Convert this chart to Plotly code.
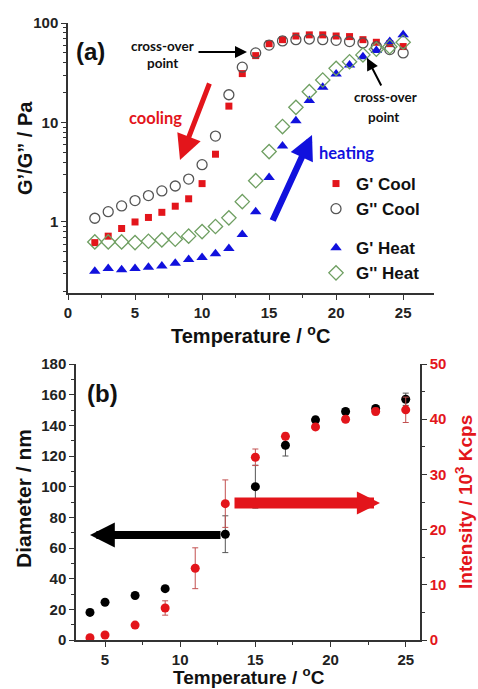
import plotly.graph_objects as go

# ---------------- data: panel (a) rheology ----------------
temp_a = list(range(2, 26))
g1_cool = [0.62, 0.72, 0.86, 1.0, 1.11, 1.25, 1.44, 1.71, 2.43, 4.8, 14.6, 31, 47, 62, 68, 74, 76, 76, 74, 73, 68, 64, 62, 58]
g2_cool = [1.09, 1.27, 1.45, 1.64, 1.84, 2.05, 2.3, 2.7, 3.77, 7.3, 19, 36, 50, 60, 66, 68, 69, 68, 67, 65, 63, 58, 54, 50]
g1_heat = [0.32, 0.34, 0.33, 0.34, 0.35, 0.36, 0.385, 0.42, 0.44, 0.48, 0.54, 0.75, 1.27, 2.8, 5.8, 10.4, 16.6, 22.6, 30.7, 37.8, 45.9, 53, 65, 76]
g2_heat = [0.63, 0.63, 0.63, 0.62, 0.64, 0.66, 0.67, 0.72, 0.80, 0.90, 1.10, 1.6, 2.6, 5.1, 9.1, 14.2, 20.4, 26.7, 35, 40.8, 47.8, 54.5, 57.7, 64]

# ---------------- data: panel (b) DLS ----------------
temp_b = [4, 5, 7, 9, 11, 13, 15, 17, 19, 21, 23, 25]
diameter = [18, 24.6, 29, 33.5, None, 69, 100, 127, 143.6, 149, 151, 157]
diameter_err = [2, 1.5, 1.5, 1.5, 0, 12, 14, 7, 2, 2, 1.5, 4]
intensity = [0.4, 0.9, 2.7, 5.8, 13, 24.7, 33.1, 36.9, 38.6, 40, 41.4, 41.7]
intensity_err = [0.3, 0.3, 0.3, 1.3, 3.7, 4.3, 1.5, 0.6, 0.5, 0.5, 0.6, 2.3]

W, H = 478, 689
def px(x):
    return x / W
def py(y):
    return 1 - y / H

FONT = "Liberation Sans, Arial, sans-serif"
TXT = "Lato, Open Sans, sans-serif"
AX = "#333333"
RED = "#e3151b"
BLUE = "#1111dd"
GREEN = "#6f9f62"

fig = go.Figure()

fig.add_trace(go.Scatter(x=temp_a, y=g1_cool, mode="markers", name="G' Cool", legendgroup="cool",
                         marker=dict(symbol="square", size=7, color=RED), xaxis="x", yaxis="y"))
fig.add_trace(go.Scatter(x=temp_a, y=g2_cool, mode="markers", name="G'' Cool", legendgroup="cool",
                         marker=dict(symbol="circle-open", size=10, color="#555555", line=dict(width=1.3)),
                         xaxis="x", yaxis="y"))
fig.add_trace(go.Scatter(x=temp_a, y=g1_heat, mode="markers", name="G' Heat", legendgroup="heat",
                         marker=dict(symbol="triangle-up", size=10, color=BLUE), xaxis="x", yaxis="y"))
fig.add_trace(go.Scatter(x=temp_a, y=g2_heat, mode="markers", name="G'' Heat", legendgroup="heat",
                         marker=dict(symbol="diamond-open", size=11, color=GREEN, line=dict(width=1.3)),
                         xaxis="x", yaxis="y"))

fig.add_trace(go.Scatter(x=temp_b, y=diameter, mode="markers", showlegend=False,
                         marker=dict(symbol="circle", size=9, color="black"),
                         error_y=dict(type="data", array=diameter_err, color="#555555", thickness=1, width=3),
                         xaxis="x2", yaxis="y2"))
fig.add_trace(go.Scatter(x=temp_b, y=intensity, mode="markers", showlegend=False,
                         marker=dict(symbol="circle", size=9, color=RED),
                         error_y=dict(type="data", array=intensity_err, color="#c25050", thickness=1, width=3),
                         xaxis="x2", yaxis="y4"))

tickfont = dict(family=FONT, size=15, color="#222222", weight="bold")

xa_dom = [px(68), px(434)]
ya_dom = [py(293), py(23)]
xb_dom = [px(76), px(420)]
yb_dom = [py(640), py(364)]

xr_a = [0, 27.3]
yr_a = [-0.714, 2.0]
xr_b = [3.07, 25.95]

minor_log = []
for d in (0.1, 1, 10):
    for k in range(2, 10):
        minor_log.append(k * d)

common = dict(showline=True, linecolor=AX, linewidth=1.5, ticks="outside", tickcolor=AX,
              ticklen=5, tickwidth=1.3, showgrid=False, zeroline=False, tickfont=tickfont,
              automargin=False)
mirror = dict(showline=True, linecolor=AX, linewidth=1.5, tickcolor=AX, ticklen=5, tickwidth=1.3,
              showgrid=False, zeroline=False, automargin=False)

fig.update_layout(
    width=W, height=H, margin=dict(l=0, r=0, t=0, b=0, autoexpand=False),
    paper_bgcolor="white", plot_bgcolor="white",
    xaxis=dict(domain=xa_dom, range=xr_a, anchor="y", tickvals=[0, 5, 10, 15, 20, 25],
               minor=dict(tickvals=[2.5, 7.5, 12.5, 17.5, 22.5], ticks="outside", ticklen=3, tickcolor=AX),
               **common),
    yaxis=dict(domain=ya_dom, type="log", range=yr_a, anchor="x", tickvals=[1, 10, 100],
               ticktext=["1", "10", "100"],
               minor=dict(tickvals=minor_log, ticks="outside", ticklen=3, tickcolor=AX), **common),
    xaxis3=dict(overlaying="x", side="top", anchor="y", range=xr_a, ticks="inside",
                tickvals=[0, 5, 10, 15, 20, 25], showticklabels=False,
                minor=dict(tickvals=[2.5, 7.5, 12.5, 17.5, 22.5], ticks="inside", ticklen=3, tickcolor=AX),
                **mirror),
    yaxis3=dict(overlaying="y", side="right", anchor="x", type="log", range=yr_a, ticks="outside",
                tickvals=[1, 10, 100], ticktext=["1", "10", "100"], tickfont=tickfont,
                minor=dict(tickvals=minor_log, ticks="outside", ticklen=3, tickcolor=AX), **mirror),
    xaxis2=dict(domain=xb_dom, range=xr_b, anchor="y2", tickvals=[5, 10, 15, 20, 25],
                minor=dict(tickvals=[2.5, 7.5, 12.5, 17.5, 22.5], ticks="outside", ticklen=3, tickcolor=AX),
                **common),
    yaxis2=dict(domain=yb_dom, range=[0, 180], anchor="x2", tickvals=list(range(0, 181, 20)),
                minor=dict(tickvals=list(range(10, 180, 20)), ticks="outside", ticklen=3, tickcolor=AX),
                **common),
    xaxis4=dict(overlaying="x2", side="top", anchor="y2", range=xr_b, ticks="inside",
                tickvals=[5, 10, 15, 20, 25], showticklabels=False,
                minor=dict(tickvals=[2.5, 7.5, 12.5, 17.5, 22.5], ticks="inside", ticklen=3, tickcolor=AX),
                **mirror),
    yaxis4=dict(overlaying="y2", side="right", anchor="x2", range=[0, 50], ticks="outside",
                tickvals=[0, 10, 20, 30, 40, 50],
                tickfont=dict(family=FONT, size=15, color=RED, weight="bold"),
                minor=dict(tickvals=[5, 15, 25, 35, 45], ticks="outside", ticklen=3, tickcolor=AX),
                **mirror),
    legend=dict(x=px(316), y=py(166), xanchor="left", yanchor="top", bgcolor="rgba(0,0,0,0)",
                font=dict(family=FONT, size=17, color="#111111", weight="bold"),
                traceorder="grouped", tracegroupgap=14),
    showlegend=True,
)

ann = []
def text(x, y, s, size, color="#111111", fam=TXT, angle=0):
    ann.append(dict(xref="paper", yref="paper", x=px(x), y=py(y), text=s, showarrow=False,
                    xanchor="center", yanchor="middle", textangle=angle, borderpad=0,
                    font=dict(family=fam, size=size, color=color, weight="bold")))
def arrow(tx, ty, hx, hy, color, width, size):
    ann.append(dict(xref="paper", yref="paper", x=px(hx), y=py(hy), ax=tx - hx, ay=ty - hy,
                    text="", showarrow=True, arrowhead=2, arrowwidth=width, arrowsize=size,
                    arrowcolor=color, standoff=0))

# axis titles
text(250, 334, "Temperature / <sup>o</sup>C", 20, fam=FONT)
text(25, 148, "G’/G” / Pa", 20, fam=FONT, angle=-90)
text(249, 676, "Temperature / <sup>o</sup>C", 19, fam=FONT)
text(23, 499, "Diameter / nm", 21, fam=FONT, angle=-90)
text(464, 502, "Intensity / 10<sup>3</sup> Kcps", 19, color=RED, fam=FONT, angle=-90)

# panel annotations
text(90, 52, "(a)", 24, fam=FONT)
text(162, 46, "cross-over", 13.5)
text(162, 63, "point", 13.5)
arrow(197, 52, 247, 52, "black", 2, 1.2)
text(385, 97, "cross-over", 13.5)
text(383, 117, "point", 13.5)
arrow(382, 87, 367, 58, "black", 2, 1.2)
text(155, 118, "cooling", 16.5, color=RED)
arrow(210, 82, 180, 160, RED, 5, 1.0)
text(346, 153, "heating", 16.5, color=BLUE)
arrow(272, 222, 312, 135, BLUE, 6.5, 0.75)

text(102, 393, "(b)", 24, fam=FONT)
arrow(222, 535, 90, 535, "black", 8, 0.62)
arrow(233, 503, 380, 503, RED, 11, 0.42)

fig.update_layout(annotations=ann)

fig.write_html("out.html", config={"displayModeBar": False},
               post_script="document.body.style.margin='0';document.body.style.padding='0';"
                           "document.body.style.overflow='hidden';")
